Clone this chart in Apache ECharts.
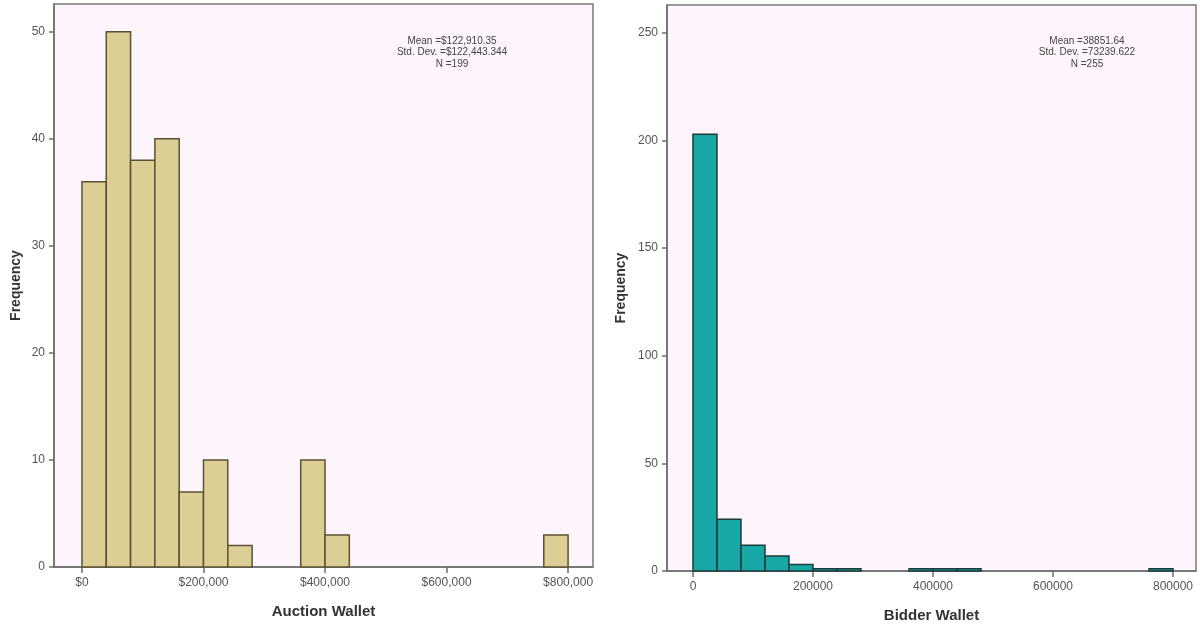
<!DOCTYPE html>
<html><head><meta charset="utf-8">
<script src="https://cdn.jsdelivr.net/npm/echarts@6/dist/echarts.min.js"></script>
<style>html,body{margin:0;padding:0;background:#fff}#c{width:1200px;height:630px}</style>
</head><body><div id="c"></div>
<script>
const binWidth = 40000;
const auctionBinStart = [0, 40000, 80000, 120000, 160000, 200000, 240000, 360000, 400000, 760000];
const auctionCounts = [36, 50, 38, 40, 7, 10, 2, 10, 3, 3];
const bidderBinStart = [0, 40000, 80000, 120000, 160000, 200000, 240000, 360000, 400000, 440000, 760000];
const bidderCounts = [203, 24, 12, 7, 3, 1, 1, 1, 1, 1, 1];
const xTicks = [0, 200000, 400000, 600000, 800000];
const auctionTickLabels = ['$0', '$200,000', '$400,000', '$600,000', '$800,000'];
const bidderTickLabels = ['0', '200000', '400000', '600000', '800000'];
const auctionStats = ['Mean =$122,910.35', 'Std. Dev. =$122,443.344', 'N =199'];
const bidderStats = ['Mean =38851.64', 'Std. Dev. =73239.622', 'N =255'];

const font = 'Liberation Sans, Arial, sans-serif';
const axisColor = '#6e6e6e';
const labelColor = '#555';

function toData(starts, counts) {
  return starts.map((s, i) => [s, s + binWidth, counts[i]]);
}
function makeRender(fill, stroke) {
  return function (params, api) {
    const p0 = api.coord([api.value(0), api.value(2)]);
    const p1 = api.coord([api.value(1), 0]);
    return {
      type: 'rect',
      shape: { x: p0[0], y: p0[1], width: p1[0] - p0[0], height: p1[1] - p0[1] },
      style: { fill: fill, stroke: stroke, lineWidth: 1.5 }
    };
  };
}
function xAxisCfg(idx, name, min, max, labels) {
  return {
    type: 'value', gridIndex: idx, min: min, max: max,
    name: name, nameLocation: 'middle', nameGap: 37,
    nameTextStyle: { fontFamily: font, fontSize: 15, fontWeight: 'bold', color: '#333' },
    axisLine: { show: true, onZero: false, lineStyle: { color: axisColor, width: 1.5 } },
    axisTick: { show: true, length: 6, customValues: xTicks, lineStyle: { color: axisColor, width: 1.5 } },
    axisLabel: {
      customValues: xTicks, margin: 10, color: labelColor, fontFamily: font, fontSize: 12,
      formatter: v => labels[xTicks.indexOf(v)]
    },
    splitLine: { show: false }
  };
}
function yAxisCfg(idx, max, interval, nameGap) {
  return {
    type: 'value', gridIndex: idx, min: 0, max: max, interval: interval,
    name: 'Frequency', nameLocation: 'middle', nameGap: nameGap,
    nameTextStyle: { fontFamily: font, fontSize: 14, fontWeight: 'bold', color: '#333' },
    axisLine: { show: true, onZero: false, lineStyle: { color: axisColor, width: 1.5 } },
    axisTick: { show: true, length: 5, lineStyle: { color: axisColor, width: 1.5 } },
    axisLabel: { margin: 9, color: labelColor, fontFamily: font, fontSize: 12, showMaxLabel: false },
    splitLine: { show: false }
  };
}
function statsText(lines, cx) {
  return lines.map((t, i) => ({
    type: 'text', x: cx, y: 36 + i * 11.5,
    style: { text: t, fill: '#444', font: '10px ' + font, align: 'center', textAlign: 'center' }
  }));
}

const chart = echarts.init(document.getElementById('c'), null, { renderer: 'canvas' });
chart.setOption({
  animation: false,
  backgroundColor: '#ffffff',
  grid: [
    { left: 54, top: 4, width: 539, height: 563, show: true, backgroundColor: '#fdf4fc', borderColor: '#7a7a7a', borderWidth: 1.5 },
    { left: 667, top: 5, width: 529, height: 566, show: true, backgroundColor: '#fdf4fc', borderColor: '#7a7a7a', borderWidth: 1.5 }
  ],
  xAxis: [
    xAxisCfg(0, 'Auction Wallet', -46000, 841000, auctionTickLabels),
    xAxisCfg(1, 'Bidder Wallet', -43300, 838300, bidderTickLabels)
  ],
  yAxis: [
    yAxisCfg(0, 52.6, 10, 31),
    yAxisCfg(1, 263, 50, 39)
  ],
  series: [
    { type: 'custom', xAxisIndex: 0, yAxisIndex: 0, data: toData(auctionBinStart, auctionCounts),
      encode: { x: [0, 1], y: 2 }, renderItem: makeRender('#dccf95', '#5b5232') },
    { type: 'custom', xAxisIndex: 1, yAxisIndex: 1, data: toData(bidderBinStart, bidderCounts),
      encode: { x: [0, 1], y: 2 }, renderItem: makeRender('#18a7a7', '#1f3a3a') }
  ],
  graphic: statsText(auctionStats, 452).concat(statsText(bidderStats, 1087))
});
</script></body></html>
